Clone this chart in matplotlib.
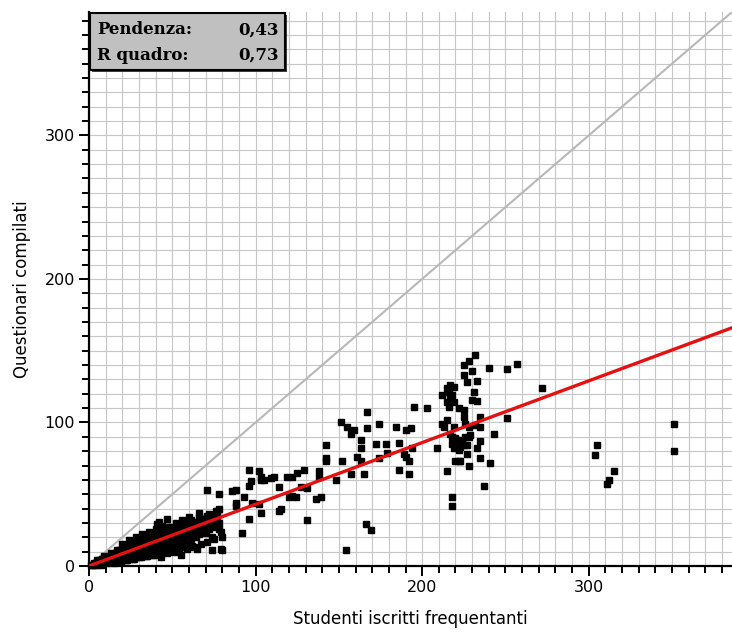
import matplotlib
matplotlib.use("Agg")
import matplotlib.pyplot as plt
from matplotlib.patches import Rectangle
from matplotlib.ticker import MultipleLocator

# ---- data ----
cluster_x = [1, 2, 3, 3, 4, 5, 5, 6, 6, 7, 8, 8, 9, 10, 10, 11, 12, 12, 13, 13,
             14, 14, 15, 15, 16, 16, 17, 17, 18, 18, 19, 19, 20, 20, 21, 21, 22, 22, 23, 23,
             24, 24, 25, 25, 26, 26, 27, 27, 28, 28, 29, 29, 30, 30, 31, 31, 32, 32, 33, 33,
             34, 34, 35, 35, 36, 36, 37, 37, 38, 38, 39, 39, 40, 40, 41, 41, 42, 42, 43, 43,
             44, 44, 45, 45, 46, 46, 47, 47, 48, 48, 49, 49, 50, 50, 51, 51, 52, 52, 53, 53,
             54, 54, 55, 55, 56, 56, 57, 57, 58, 58, 59, 59, 60, 60, 61, 61, 62, 62, 63, 64,
             64, 65, 66, 66, 67, 68, 69, 70, 71, 72, 73, 74, 75, 76, 77, 78,
             5, 7, 9, 11, 13, 15, 17, 19, 21, 23, 25, 27, 29, 31, 33, 35, 37, 39, 41, 43,
             45, 47, 49, 51, 53, 55, 57, 59, 61, 63, 65, 67, 69, 71, 73, 75, 77, 79,
             20, 24, 28, 32, 36, 40, 44, 48, 52, 56, 60, 64, 68, 72, 76,
             18, 22, 26, 30, 34, 38, 42, 46, 50, 54, 58, 62]
cluster_y = [0.5, 1, 1, 2, 2, 1, 3, 2, 4, 3, 2, 5, 4, 3, 6, 4, 5, 7, 3, 6,
             5, 8, 4, 7, 6, 9, 5, 10, 7, 11, 6, 9, 8, 12, 5, 10, 9, 13, 8, 11,
             6, 12, 9, 14, 8, 15, 10, 13, 7, 16, 9, 12, 11, 17, 8, 14, 10, 18, 12, 15,
             9, 16, 13, 19, 10, 17, 12, 20, 11, 15, 14, 22, 9, 18, 13, 21, 16, 24, 11, 19,
             15, 20, 12, 23, 17, 14, 13, 21, 16, 25, 15, 19, 12, 22, 18, 14, 20, 26, 15, 23,
             18, 21, 16, 27, 19, 14, 22, 17, 20, 24, 18, 26, 21, 16, 24, 19, 22, 28, 25, 20,
             23, 26, 22, 29, 24, 27, 25, 23, 28, 26, 30, 27, 31, 29, 33, 30,
             4, 1, 7, 2, 9, 2, 11, 3, 13, 4, 16, 5, 18, 6, 20, 7, 22, 8, 26, 6,
             24, 9, 27, 10, 29, 8, 30, 12, 32, 13, 27, 15, 33, 17, 35, 19, 38, 24,
             15, 18, 20, 22, 24, 26, 28, 27, 30, 32, 34, 31, 33, 36, 38,
             3, 4, 5, 6, 7, 8, 9, 10, 11, 12, 13, 14]

mid_x = [41, 42, 47, 58, 65, 66, 66, 71, 71, 74, 74, 76, 77, 78, 78, 78, 79, 80, 80,
         86, 88, 88, 88, 92, 93, 96, 96, 96, 97, 98, 102, 102, 103, 103, 103, 105,
         109, 111, 114, 114, 115, 119, 120, 122, 122, 124, 125, 127, 129, 131, 131, 136, 138,
         139, 138, 142, 142, 142, 148, 151, 152, 154, 155, 157, 157, 159, 161, 163, 163, 163,
         165, 166, 167, 167, 169, 172, 174, 174, 178, 179, 184, 186, 186, 189, 190, 190, 192,
         192, 193, 194, 195, 203]
mid_y = [29, 31, 33, 31, 12, 34, 37, 53, 35, 20, 11, 33, 36, 40, 50, 26, 12, 20, 11,
         52, 53, 44, 42, 23, 48, 56, 67, 33, 59, 44, 66, 43, 37, 60, 62, 60,
         61, 62, 55, 38, 40, 62, 48, 62, 49, 48, 65, 55, 67, 54, 32, 47, 62,
         48, 66, 84, 75, 73, 60, 100, 73, 11, 97, 64, 92, 95, 76, 88, 82, 73,
         64, 29, 107, 96, 25, 85, 99, 75, 85, 79, 97, 86, 67, 78, 76, 95, 73,
         64, 96, 82, 111, 110]

high_x = [209, 212, 212, 213, 215, 215, 215, 215, 216, 216, 217, 217, 217, 218, 218, 218,
          219, 219, 219, 219, 220, 220, 221, 222, 222, 222, 222, 223, 223, 224, 225, 225,
          225, 225, 225, 226, 226, 227, 227, 227, 228, 228, 228, 228, 229, 230, 230, 231,
          232, 232, 233, 233, 233, 235, 235, 235, 235, 237, 240, 241, 243, 251, 251, 257,
          272, 218, 218]
high_y = [82, 99, 119, 97, 66, 102, 114, 124, 121, 111, 117, 126, 92, 119, 90, 85,
          114, 125, 97, 82, 89, 73, 84, 88, 110, 81, 73, 83, 73, 87, 109, 104,
          84, 133, 140, 99, 90, 128, 84, 78, 143, 97, 90, 70, 91, 136, 116, 121,
          147, 98, 129, 82, 115, 104, 97, 87, 75, 56, 138, 72, 92, 103, 137, 141,
          124, 48, 42]

out_x = [304, 305, 311, 312, 315, 351, 351]
out_y = [77, 84, 57, 60, 66, 99, 80]

slope = 0.43
r2 = 0.73
xmax = 386
ymax = 386

# ---- figure ----
fig = plt.figure(figsize=(7.32, 6.34), dpi=100)
ax = fig.add_axes([89 / 732, 68 / 634, 1 - 89 / 732, (566 - 12) / 634])

ax.set_xlim(0, xmax)
ax.set_ylim(0, ymax)
ax.xaxis.set_major_locator(MultipleLocator(100))
ax.yaxis.set_major_locator(MultipleLocator(100))
ax.xaxis.set_minor_locator(MultipleLocator(10))
ax.yaxis.set_minor_locator(MultipleLocator(10))
ax.grid(which="both", color="#c6c6c6", linewidth=0.8, zorder=0)
ax.set_axisbelow(True)

for s in ["top", "right"]:
    ax.spines[s].set_visible(False)
for s in ["left", "bottom"]:
    ax.spines[s].set_linewidth(1.6)
    ax.spines[s].set_color("black")

ax.tick_params(which="major", direction="out", length=7, width=1.4, labelsize=11.5, pad=3)
ax.tick_params(which="minor", direction="out", length=5, width=1.4)

# identity line
ax.plot([0, xmax], [0, xmax], color="#b8b8b8", linewidth=1.5, zorder=2)

# points
allx = cluster_x + mid_x + high_x + out_x
ally = cluster_y + mid_y + high_y + out_y
ax.plot(allx, ally, linestyle="none", marker="s", markersize=3.9,
        color="black", zorder=3, clip_on=False)

# regression line
ax.plot([0, xmax], [0, slope * xmax], color="#e51010", linewidth=2.4, zorder=4)

ax.set_xlabel("Studenti iscritti frequentanti", fontsize=12, labelpad=11)
ax.set_ylabel("Questionari compilati", fontsize=12, labelpad=10)

# stats box (figure pixel coords)
W, H = 732, 634
def fx(px):
    return px / W
def fy(py):
    return 1 - py / H

shadow = Rectangle((fx(92), fy(72)), fx(285) - fx(90), fy(13) - fy(70),
                   transform=fig.transFigure, facecolor="#404040", edgecolor="none", zorder=5)
box = Rectangle((fx(90), fy(70)), fx(285) - fx(90), fy(13) - fy(70),
                transform=fig.transFigure, facecolor="#c0c0c0", edgecolor="black",
                linewidth=1.5, zorder=6)
fig.patches.extend([shadow, box])

tfont = dict(family="DejaVu Serif", weight="bold", fontsize=12, zorder=7)
fig.text(fx(97), fy(30), "Pendenza:", ha="left", va="center", **tfont)
fig.text(fx(279), fy(30), f"{slope:.2f}".replace(".", ","), ha="right", va="center", **tfont)
fig.text(fx(97), fy(55), "R quadro:", ha="left", va="center", **tfont)
fig.text(fx(279), fy(55), f"{r2:.2f}".replace(".", ","), ha="right", va="center", **tfont)

fig.savefig("out.png", dpi=100)
